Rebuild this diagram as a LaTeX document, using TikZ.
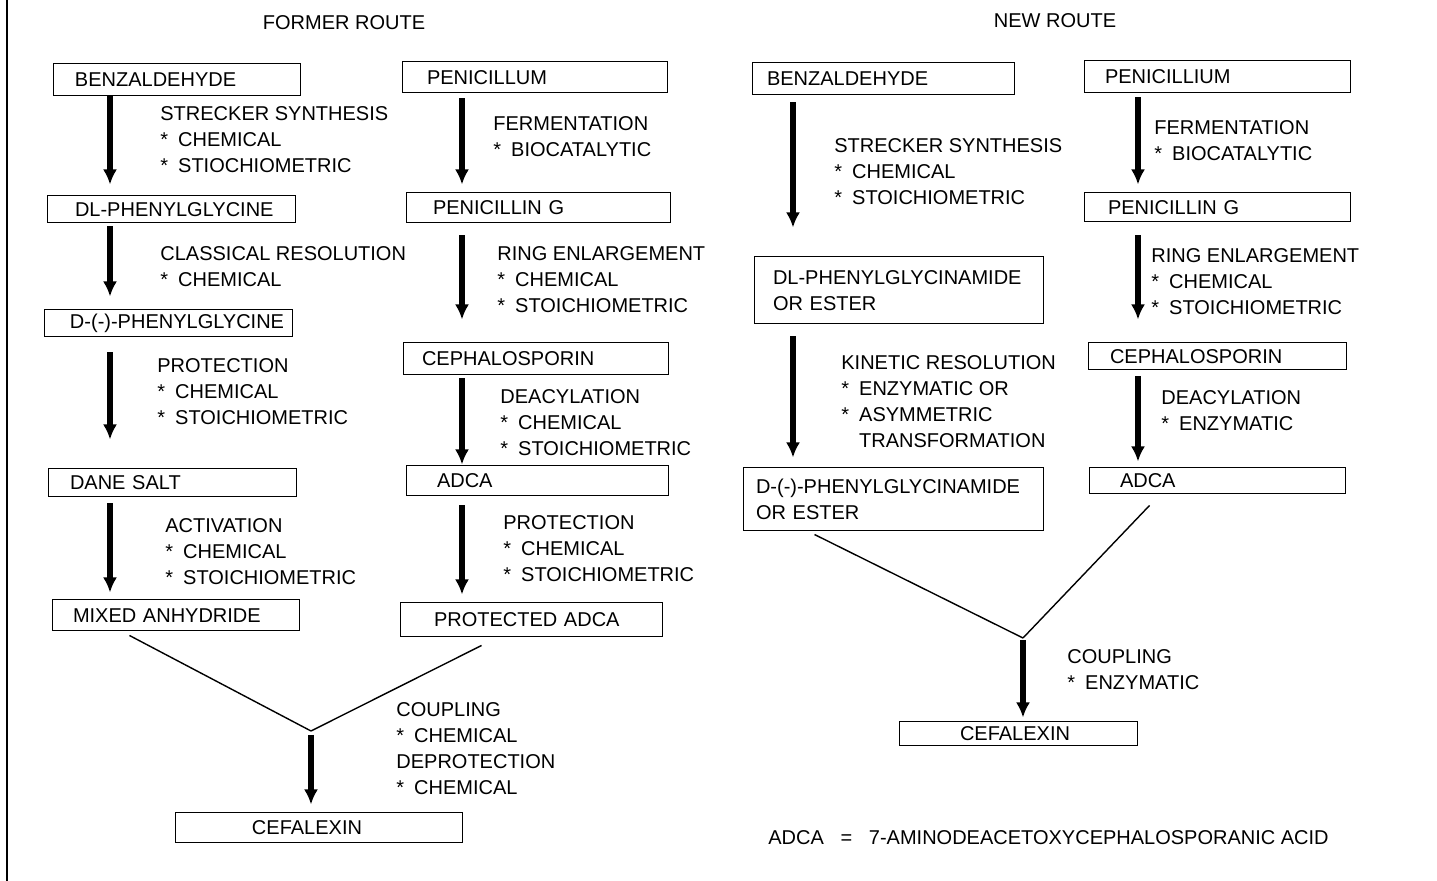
\documentclass[tikz,border=0pt]{standalone}
\usepackage{fontspec}
\setmainfont{Liberation Sans}
\usetikzlibrary{arrows.meta}
\newcommand{\itm}{*\enspace}
\tikzset{%
stage/.style 2 args={draw,line width=0.5pt,inner sep=0pt,text width=#1,
    align=left,execute at begin node={\leftskip=#2}},
note/.style={anchor=north west,inner sep=0pt,align=left},
flow/.style={->,line width=2.6pt},
merge/.style={line width=0.7pt},
}

\begin{document}
\begin{tikzpicture}[x=0.5pt,y=-0.5pt,>={Latex[length=7.5pt,width=7pt]},
        every node/.style={font=\fontsize{10}{13}\selectfont}]
        \useasboundingbox (0,0) rectangle (1437,881);
        \draw[line width=1.2pt] (7,0) -- (7,881);
        % former route
        \node (former) at (344,23) {FORMER ROUTE};
        \node[stage={123.5pt}{11pt},minimum height=16pt] (lbenz) at (176.5,80) {BENZALDEHYDE};
        \node[stage={132.5pt}{12.5pt},minimum height=15.5pt] (lpen) at (534.5,77.5) {PENICILLUM};
        \node[stage={124pt}{14pt},minimum height=13.5pt] (ldl) at (171,209.5) {DL-PHENYLGLYCINE};
        \node[stage={132pt}{13.5pt},minimum height=15pt] (lpeng) at (538,208) {PENICILLIN G};
        \node[stage={124pt}{13pt},minimum height=13.5pt] (ld) at (168,323.5) {D-(-)-PHENYLGLYCINE};
        \node[stage={132.5pt}{9.5pt},minimum height=16pt] (lceph) at (535.5,359) {CEPHALOSPORIN};
        \node[stage={124pt}{11pt},minimum height=14pt] (ldane) at (172,483) {DANE SALT};
        \node[stage={131pt}{15.5pt},minimum height=15pt] (ladca) at (537,481) {ADCA};
        \node[stage={123.5pt}{10.5pt},minimum height=15.5pt] (lmix) at (175.5,615.5) {MIXED ANHYDRIDE};
        \node[stage={131pt}{17pt},minimum height=17pt] (lprot) at (531,620) {PROTECTED ADCA};
        \node[stage={143.5pt}{38.5pt},minimum height=15pt] (lcef) at (318.5,828) {CEFALEXIN};

        \node[note] (l1) at (160,106) {STRECKER SYNTHESIS\\\itm CHEMICAL\\\itm STIOCHIOMETRIC};
        \node[note] (l2) at (493,116) {FERMENTATION\\\itm BIOCATALYTIC};
        \node[note] (l3) at (160,246) {CLASSICAL RESOLUTION\\\itm CHEMICAL};
        \node[note] (l4) at (497,246) {RING ENLARGEMENT\\\itm CHEMICAL\\\itm STOICHIOMETRIC};
        \node[note] (l5) at (157,358) {PROTECTION\\\itm CHEMICAL\\\itm STOICHIOMETRIC};
        \node[note] (l6) at (500,389) {DEACYLATION\\\itm CHEMICAL\\\itm STOICHIOMETRIC};
        \node[note] (l7) at (165,518) {ACTIVATION\\\itm CHEMICAL\\\itm STOICHIOMETRIC};
        \node[note] (l8) at (503,515) {PROTECTION\\\itm CHEMICAL\\\itm STOICHIOMETRIC};
        \node[note] (l9) at (396,702) {COUPLING\\\itm CHEMICAL\\DEPROTECTION\\\itm CHEMICAL};

        \coordinate (lcol) at (110,0);
        \coordinate (pcol) at (462,0);
        \draw[flow,shorten >=5.5pt] (lbenz.south -| lcol) -- (ldl.north -| lcol);
        \draw[flow,shorten <=1.5pt,shorten >=6.5pt] (ldl.south -| lcol) -- (ld.north -| lcol);
        \draw[flow,shorten <=7.5pt,shorten >=14.5pt] (ld.south -| lcol) -- (ldane.north -| lcol);
        \draw[flow,shorten <=3pt,shorten >=3.5pt] (ldane.south -| lcol) -- (lmix.north -| lcol);
        \draw[flow,shorten <=2.5pt,shorten >=4pt] (lpen.south -| pcol) -- (lpeng.north -| pcol);
        \draw[flow,shorten <=6pt,shorten >=11.5pt] (lpeng.south -| pcol) -- (lceph.north -| pcol);
        \draw[flow,shorten <=1.5pt,shorten >=0.5pt] (lceph.south -| pcol) -- (ladca.north -| pcol);
        \draw[flow,shorten <=4.5pt,shorten >=4pt] (ladca.south -| pcol) -- (lprot.north -| pcol);

        \coordinate (ljoin) at (311,731);
        \draw[merge] ([xshift=39pt,yshift=-2pt]lmix.south west) -- (ljoin);
        \draw[merge] ([xshift=41pt,yshift=-4pt]lprot.south west) -- (ljoin);
        \draw[flow,shorten <=2pt,shorten >=4pt] (ljoin) -- (lcef.north -| ljoin);

        % new route
        \node (new) at (1055,21) {NEW ROUTE};
        \node[stage={131pt}{7.5pt},minimum height=16pt] (rbenz) at (883,79) {BENZALDEHYDE};
        \node[stage={133pt}{10.5pt},minimum height=16pt] (rpen) at (1217,77) {PENICILLIUM};
        \node[stage={144.5pt}{9.5pt},minimum height=33.5pt] (rdl) at (898.5,290.5) {DL-PHENYLGLYCINAMIDE\\OR ESTER};
        \node[stage={133pt}{12pt},minimum height=14.5pt] (rpeng) at (1217,207.5) {PENICILLIN G};
        \node[stage={129pt}{11pt},minimum height=13.5pt] (rceph) at (1217,356.5) {CEPHALOSPORIN};
        \node[stage={150pt}{6.5pt},minimum height=31.5pt] (rd) at (893,499.5) {D-(-)-PHENYLGLYCINAMIDE\\OR ESTER};
        \node[stage={128pt}{15.5pt},minimum height=13pt] (radca) at (1217,481) {ADCA};
        \node[stage={119pt}{30.5pt},minimum height=12pt] (rcef) at (1018,734) {CEFALEXIN};

        \node[note] (r1) at (834,138) {STRECKER SYNTHESIS\\\itm CHEMICAL\\\itm STOICHIOMETRIC};
        \node[note] (r2) at (1154,120) {FERMENTATION\\\itm BIOCATALYTIC};
        \node[note] (r3) at (1151,248) {RING ENLARGEMENT\\\itm CHEMICAL\\\itm STOICHIOMETRIC};
        \node[note] (r4) at (841,355) {KINETIC RESOLUTION\\\itm ENZYMATIC OR\\\itm ASYMMETRIC\\\phantom{\itm}TRANSFORMATION};
        \node[note] (r5) at (1161,390) {DEACYLATION\\\itm ENZYMATIC};
        \node[note] (r6) at (1067,649) {COUPLING\\\itm ENZYMATIC};

        \coordinate (bcol) at (793,0);
        \coordinate (scol) at (1138,0);
        \draw[flow,shorten <=3.5pt,shorten >=14.5pt] (rbenz.south -| bcol) -- (rdl.north -| bcol);
        \draw[flow,shorten <=6pt,shorten >=5pt] (rdl.south -| bcol) -- (rd.north -| bcol);
        \draw[flow,shorten <=2pt,shorten >=4pt] (rpen.south -| scol) -- (rpeng.north -| scol);
        \draw[flow,shorten <=6.5pt,shorten >=11.5pt] (rpeng.south -| scol) -- (rceph.north -| scol);
        \draw[flow,shorten <=3pt,shorten >=3pt] (rceph.south -| scol) -- (radca.north -| scol);

        \coordinate (rjoin) at (1023,638);
        \draw[merge] ([xshift=36pt,yshift=-1.5pt]rd.south west) -- (rjoin);
        \draw[merge] ([xshift=30.5pt,yshift=-5.5pt]radca.south west) -- (rjoin);
        \draw[flow,shorten <=1pt,shorten >=2pt] (rjoin) -- (rcef.north -| rjoin);

        \node[note] (key) at (768,830) {ADCA\ \ \ =\ \ \ 7-AMINODEACETOXYCEPHALOSPORANIC ACID};
\end{tikzpicture}
\end{document}
